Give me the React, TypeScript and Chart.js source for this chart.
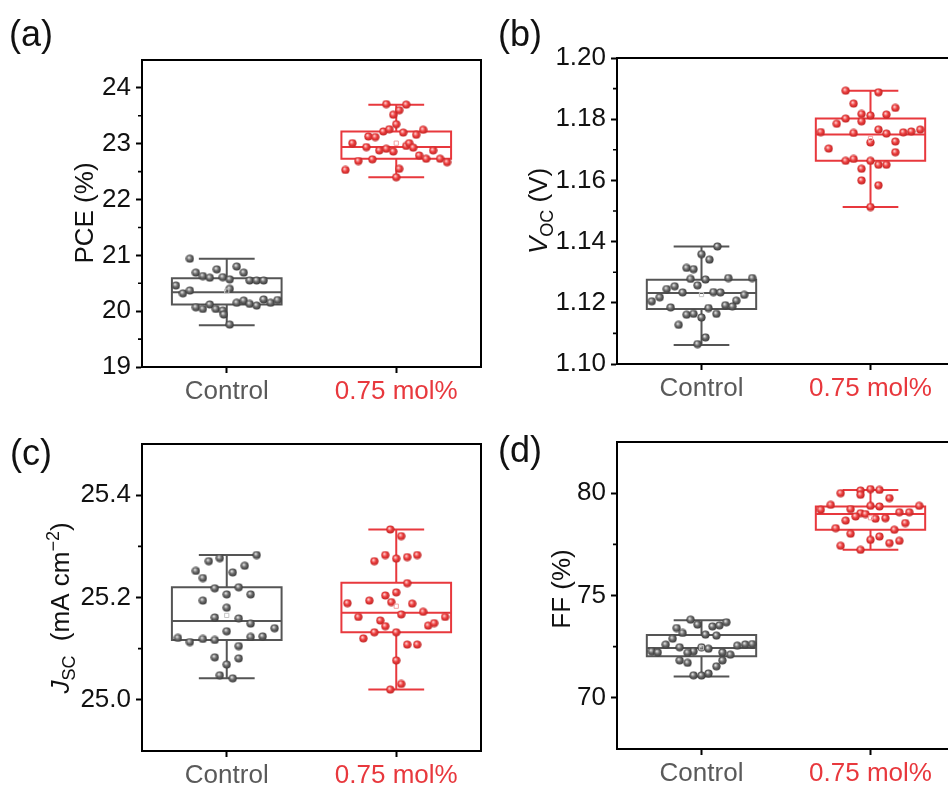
import React, { useEffect, useRef } from 'react';
import { Chart, registerables } from 'chart.js';

Chart.register(...registerables);

// ---------- shared categories ----------
const categories = ['Control', '0.75 mol%'];
const categoryPos = [85, 255]; // positions on a 0..340 x scale
const xExtent = [0, 340];

// ---------- (a) PCE ----------
const pceTicks = [19, 20, 21, 22, 23, 24];
const pceMinor = [19.5, 20.5, 21.5, 22.5, 23.5];
const pceCtrl = [20.94, 20.75, 20.80, 20.69, 20.69, 20.63, 20.60, 20.61, 20.57, 20.55, 20.55, 20.55, 20.46, 20.32, 20.37, 20.40, 20.07, 20.04, 20.12, 20.04, 20.01, 19.94, 20.15, 20.19, 20.13, 20.10, 20.21, 20.15, 20.20, 19.76];
const pceCtrlDx = [-37, -10, 10, 17, -31, -24, -17, -4, 3, 23, 30, 37, -51, -44, -37, 3, -31, -24, -17, -11, -4, -3, 10, 17, 23, 30, 37, 44, 51, 3];
const pceCtrlBox = [19.75, 20.12, 20.34, 20.59, 20.94];
const pceCtrlMean = 20.36;
const pceRed = [23.71, 23.70, 23.60, 23.52, 23.35, 23.22, 23.26, 23.20, 23.16, 23.25, 23.13, 23.12, 23.01, 22.94, 22.88, 22.91, 22.86, 22.96, 23.01, 22.93, 22.88, 22.69, 22.72, 22.79, 22.73, 22.73, 22.67, 22.53, 22.55, 22.40];
const pceRedDx = [-10, 10, 3, -3, 0, -13, -7, 7, 20, 27, -28, -21, -44, -30, -17, -10, -3, 10, 13, 17, 37, -38, -24, 23, 30, 44, 51, -51, 3, 0];
const pceRedBox = [22.40, 22.73, 22.94, 23.22, 23.70];
const pceRedMean = 23.01;

// ---------- (b) Voc ----------
const vocTicks = [1.10, 1.12, 1.14, 1.16, 1.18, 1.20];
const vocMinor = [1.11, 1.13, 1.15, 1.17, 1.19];
const vocCtrl = [1.1384, 1.1359, 1.1341, 1.1314, 1.1310, 1.1278, 1.1276, 1.1281, 1.1281, 1.1257, 1.1254, 1.1245, 1.1234, 1.1235, 1.1234, 1.1226, 1.1218, 1.1205, 1.1207, 1.1185, 1.1183, 1.1192, 1.1188, 1.1161, 1.1164, 1.1164, 1.1152, 1.1128, 1.1087, 1.1065];
const vocCtrlDx = [16, 0, 8, -15, -8, -11, 4, 27, 51, -4, -27, -35, -19, 12, 19, 43, -42, -50, 35, -31, 7, 24, 31, -15, -8, 15, 0, -23, 4, -4];
const vocCtrlBox = [1.1062, 1.1180, 1.1232, 1.1275, 1.1384];
const vocCtrlMean = 1.1227;
const vocRed = [1.1893, 1.1888, 1.1851, 1.1837, 1.1817, 1.1812, 1.1815, 1.1802, 1.1785, 1.1793, 1.1758, 1.1755, 1.1766, 1.1753, 1.1757, 1.1760, 1.1766, 1.1724, 1.1727, 1.1704, 1.1692, 1.1664, 1.1670, 1.1664, 1.1651, 1.1651, 1.1638, 1.1600, 1.1584, 1.1513];
const vocRedDx = [-25, 8, -17, 25, -9, 0, 16, -25, -34, -9, -50, -17, 8, 16, 33, 41, 50, 0, 25, -42, 25, -25, -17, 0, 8, 16, -9, -9, 8, 0];
const vocRedBox = [1.1513, 1.1664, 1.1750, 1.1802, 1.1893];
const vocRedMean = 1.1737;

// ---------- (c) Jsc ----------
const jscTicks = [25.0, 25.2, 25.4];
const jscMinor = [25.1, 25.3];
const jscCtrl = [25.283, 25.271, 25.277, 25.262, 25.252, 25.249, 25.238, 25.218, 25.220, 25.206, 25.206, 25.194, 25.180, 25.161, 25.159, 25.149, 25.134, 25.140, 25.121, 25.113, 25.119, 25.117, 25.123, 25.124, 25.105, 25.083, 25.081, 25.069, 25.048, 25.042];
const jscCtrlDx = [30, -18, -7, 18, -31, 6, -24, -12, 12, 0, 24, -24, 0, -12, 12, 24, 0, 48, -49, -37, -24, -12, 24, 36, 12, -12, 12, 0, -7, 6];
const jscCtrlBox = [25.042, 25.117, 25.154, 25.220, 25.283];
const jscCtrlMean = 25.165;
const jscRed = [25.333, 25.320, 25.271, 25.283, 25.276, 25.279, 25.283, 25.228, 25.210, 25.204, 25.191, 25.189, 25.194, 25.188, 25.172, 25.167, 25.162, 25.155, 25.162, 25.144, 25.145, 25.150, 25.132, 25.132, 25.120, 25.108, 25.108, 25.077, 25.031, 25.020];
const jscRedDx = [-6, 5, -22, -11, 0, 11, 21, 11, 0, -11, -5, -49, -27, 16, 27, 5, -38, -16, 49, -11, 32, 38, -22, 0, -33, 11, 21, 0, 5, -6];
const jscRedBox = [25.020, 25.132, 25.170, 25.229, 25.333];
const jscRedMean = 25.183;

// ---------- (d) FF ----------
const ffTicks = [70, 75, 80];
const ffMinor = [72.5, 77.5];
const ffCtrl = [73.82, 73.58, 73.49, 73.54, 73.69, 73.41, 73.17, 72.89, 73.09, 73.04, 72.60, 72.47, 72.27, 72.47, 72.40, 72.20, 72.55, 72.61, 72.63, 72.27, 72.22, 72.22, 72.11, 71.83, 71.83, 71.71, 71.54, 71.10, 71.09, 71.19];
const ffCtrlDx = [-11, -4, 11, 18, 25, -25, -19, -29, 4, 15, -36, -22, -8, 0, 7, -14, 36, 44, 51, -50, -44, 21, 29, 21, -22, -14, 15, -8, 0, 7];
const ffCtrlBox = [71.04, 72.03, 72.44, 73.07, 73.79];
const ffCtrlMean = 72.45;
const ffRed = [80.13, 80.20, 80.16, 80.00, 79.92, 79.76, 79.43, 79.38, 79.35, 79.38, 79.19, 79.22, 79.02, 79.07, 79.07, 78.86, 78.98, 78.75, 78.78, 78.66, 78.54, 78.29, 78.21, 78.02, 77.72, 77.88, 77.56, 77.67, 77.43, 77.23];
const ffRedDx = [-10, 0, 9, -30, -10, 19, -40, 0, 9, 49, -50, -20, -10, 29, 39, -15, -5, 5, 15, -25, 35, -35, 24, -20, 0, 9, 19, 29, -30, -10];
const ffRedBox = [77.23, 78.21, 78.98, 79.35, 80.15];
const ffRedMean = 78.80;

// ---------- styles ----------
const FONT = '"Liberation Sans", Arial, Helvetica, sans-serif';
const labelColors = ['#5a5a5a', '#e8383d'];
const boxColors = ['#555555', '#e8383d'];
const meanColors = ['#c4c4c4', '#f4a0a0'];
const BOX_HALF = 55;
const CAP_HALF = 28;
const CANVAS_W = 960;
const CANVAS_H = 800;
const Y_AXIS_W = 142;
const X_AXIS_H = 40;

type Part = { text: string; italic?: boolean; sub?: boolean; sup?: boolean };
type Group = { values: number[]; dx: number[]; box: number[]; mean: number };
type Panel = {
  tag: string; tagX: number; tagY: number;
  plot: number[];
  yMin: number; yMax: number; yTicks: number[]; yMinor: number[]; decimals: number;
  title: Part[]; titleX: number; titleY: number;
  groups: Group[];
};

const panels: Panel[] = [
  {
    tag: '(a)', tagX: 9, tagY: 46, plot: [142, 60, 481, 367],
    yMin: 19, yMax: 24.5, yTicks: pceTicks, yMinor: pceMinor, decimals: 0,
    title: [{ text: 'PCE (%)' }], titleX: 93, titleY: 213,
    groups: [
      { values: pceCtrl, dx: pceCtrlDx, box: pceCtrlBox, mean: pceCtrlMean },
      { values: pceRed, dx: pceRedDx, box: pceRedBox, mean: pceRedMean },
    ],
  },
  {
    tag: '(b)', tagX: 498, tagY: 46, plot: [617, 58, 957, 364],
    yMin: 1.10, yMax: 1.20, yTicks: vocTicks, yMinor: vocMinor, decimals: 2,
    title: [{ text: 'V', italic: true }, { text: 'OC', sub: true }, { text: ' (V)' }], titleX: 547, titleY: 211,
    groups: [
      { values: vocCtrl, dx: vocCtrlDx, box: vocCtrlBox, mean: vocCtrlMean },
      { values: vocRed, dx: vocRedDx, box: vocRedBox, mean: vocRedMean },
    ],
  },
  {
    tag: '(c)', tagX: 10, tagY: 465, plot: [142, 444, 481, 751],
    yMin: 24.9, yMax: 25.5, yTicks: jscTicks, yMinor: jscMinor, decimals: 1,
    title: [{ text: 'J', italic: true }, { text: 'SC', sub: true }, { text: '  (mA cm' }, { text: '\u22122', sup: true }, { text: ')' }],
    titleX: 69, titleY: 608,
    groups: [
      { values: jscCtrl, dx: jscCtrlDx, box: jscCtrlBox, mean: jscCtrlMean },
      { values: jscRed, dx: jscRedDx, box: jscRedBox, mean: jscRedMean },
    ],
  },
  {
    tag: '(d)', tagX: 498, tagY: 462, plot: [617, 442, 957, 749],
    yMin: 67.5, yMax: 82.5, yTicks: ffTicks, yMinor: ffMinor, decimals: 0,
    title: [{ text: 'FF (%)' }], titleX: 570, titleY: 589,
    groups: [
      { values: ffCtrl, dx: ffCtrlDx, box: ffCtrlBox, mean: ffCtrlMean },
      { values: ffRed, dx: ffRedDx, box: ffRedBox, mean: ffRedMean },
    ],
  },
];

function makeBall(light: string, mid: string, dark: string) {
  const c = document.createElement('canvas');
  c.width = 9;
  c.height = 9;
  const g = c.getContext('2d')!;
  const grad = g.createRadialGradient(3.4, 3.2, 0.3, 4.5, 4.5, 4.6);
  grad.addColorStop(0, light);
  grad.addColorStop(0.45, mid);
  grad.addColorStop(1, dark);
  g.fillStyle = grad;
  g.beginPath();
  g.arc(4.5, 4.5, 4.1, 0, Math.PI * 2);
  g.fill();
  return c;
}

function drawRich(ctx: CanvasRenderingContext2D, parts: Part[], bx: number, cy: number, size: number) {
  const fontFor = (p: Part) =>
    `${p.italic ? 'italic ' : ''}${p.sub || p.sup ? Math.round(size * 0.68) : size}px ${FONT}`;
  ctx.save();
  ctx.translate(bx, cy);
  ctx.rotate(-Math.PI / 2);
  let total = 0;
  parts.forEach((p) => {
    ctx.font = fontFor(p);
    total += ctx.measureText(p.text).width;
  });
  let x = -total / 2;
  ctx.textAlign = 'left';
  ctx.textBaseline = 'alphabetic';
  ctx.fillStyle = '#111';
  parts.forEach((p) => {
    ctx.font = fontFor(p);
    const dy = p.sub ? size * 0.22 : p.sup ? -size * 0.38 : 0;
    ctx.fillText(p.text, x, dy);
    x += ctx.measureText(p.text).width;
  });
  ctx.restore();
}

function buildConfig(panel: Panel): any {
  const balls = [
    makeBall('#e6e6e6', '#6a6a6a', '#2e2e2e'),
    makeBall('#ffd2d2', '#ee4040', '#b51c1c'),
  ];
  const [pl, pt, pr, pb] = panel.plot;

  const datasets: any[] = [];
  panel.groups.forEach((g, i) => {
    datasets.push({
      type: 'scatter',
      data: [{ x: categoryPos[i], y: g.mean }],
      pointStyle: 'rect',
      pointRadius: 3,
      borderWidth: 1,
      borderColor: meanColors[i],
      backgroundColor: 'rgba(0,0,0,0)',
    });
  });
  panel.groups.forEach((g, i) => {
    datasets.push({
      type: 'scatter',
      data: g.values.map((v, k) => ({ x: categoryPos[i] + g.dx[k], y: v })),
      pointStyle: balls[i],
      pointRadius: 4,
    });
  });

  const plugin = {
    id: 'boxplotPanel',
    beforeDatasetsDraw(chart: any) {
      const { ctx, scales } = chart;
      const x = scales.x;
      const y = scales.y;
      ctx.save();
      panel.groups.forEach((g, i) => {
        const c = categoryPos[i];
        const cx = x.getPixelForValue(c);
        const bl = x.getPixelForValue(c - BOX_HALF);
        const br = x.getPixelForValue(c + BOX_HALF);
        const wl = x.getPixelForValue(c - CAP_HALF);
        const wr = x.getPixelForValue(c + CAP_HALF);
        const [mn, q1, md, q3, mx] = g.box.map((v) => y.getPixelForValue(v));
        ctx.strokeStyle = boxColors[i];
        ctx.lineWidth = 2;
        ctx.beginPath();
        ctx.rect(bl, q3, br - bl, q1 - q3);
        ctx.moveTo(bl, md); ctx.lineTo(br, md);
        ctx.moveTo(cx, q3); ctx.lineTo(cx, mx);
        ctx.moveTo(cx, q1); ctx.lineTo(cx, mn);
        ctx.moveTo(wl, mx); ctx.lineTo(wr, mx);
        ctx.moveTo(wl, mn); ctx.lineTo(wr, mn);
        ctx.stroke();
      });
      ctx.restore();
    },
    afterDraw(chart: any) {
      const { ctx, chartArea, scales } = chart;
      const y = scales.y;
      ctx.save();
      ctx.strokeStyle = '#000';
      ctx.lineWidth = 2;
      ctx.strokeRect(chartArea.left, chartArea.top, chartArea.right - chartArea.left, chartArea.bottom - chartArea.top);
      ctx.lineWidth = 1.6;
      ctx.beginPath();
      panel.yMinor.forEach((v) => {
        const py = y.getPixelForValue(v);
        ctx.moveTo(chartArea.left - 4, py);
        ctx.lineTo(chartArea.left, py);
      });
      ctx.stroke();
      drawRich(ctx, panel.title, panel.titleX, panel.titleY, 26);
      ctx.font = `36px ${FONT}`;
      ctx.fillStyle = '#111';
      ctx.textAlign = 'left';
      ctx.textBaseline = 'alphabetic';
      ctx.fillText(panel.tag, panel.tagX, panel.tagY);
      ctx.restore();
    },
  };

  return {
    type: 'scatter',
    data: { datasets },
    plugins: [plugin],
    options: {
      animation: false,
      responsive: false,
      devicePixelRatio: 1,
      events: [],
      layout: {
        padding: {
          left: pl - Y_AXIS_W,
          top: pt,
          right: CANVAS_W - pr,
          bottom: CANVAS_H - pb - X_AXIS_H,
        },
      },
      plugins: { legend: { display: false }, tooltip: { enabled: false } },
      scales: {
        x: {
          type: 'linear',
          min: xExtent[0],
          max: xExtent[1],
          afterBuildTicks: (axis: any) => {
            axis.ticks = categoryPos.map((v) => ({ value: v }));
          },
          afterFit: (axis: any) => {
            axis.height = X_AXIS_H;
          },
          ticks: {
            autoSkip: false,
            maxRotation: 0,
            padding: 3,
            font: { family: FONT, size: 26 },
            color: (c: any) => labelColors[c.index] || '#000',
            callback: (_v: any, i: number) => categories[i],
          },
          grid: {
            display: true,
            drawOnChartArea: false,
            drawTicks: true,
            tickLength: 6,
            tickWidth: 2,
            tickColor: '#000',
            color: '#000',
          },
          border: { display: true, color: '#000', width: 2 },
        },
        y: {
          type: 'linear',
          min: panel.yMin,
          max: panel.yMax,
          afterBuildTicks: (axis: any) => {
            axis.ticks = panel.yTicks.map((v) => ({ value: v }));
          },
          afterFit: (axis: any) => {
            axis.width = Y_AXIS_W;
          },
          ticks: {
            padding: 5,
            font: { family: FONT, size: 26 },
            color: '#111',
            callback: (v: any) => Number(v).toFixed(panel.decimals),
          },
          grid: {
            display: true,
            drawOnChartArea: false,
            drawTicks: true,
            tickLength: 6,
            tickWidth: 2,
            tickColor: '#000',
            color: '#000',
          },
          border: { display: true, color: '#000', width: 2 },
        },
      },
    },
  };
}

function PanelChart({ panel }: { panel: Panel }) {
  const ref = useRef<HTMLCanvasElement | null>(null);
  useEffect(() => {
    const chart = new Chart(ref.current as HTMLCanvasElement, buildConfig(panel));
    return () => chart.destroy();
  }, [panel]);
  return (
    <canvas
      ref={ref}
      width={CANVAS_W}
      height={CANVAS_H}
      style={{ position: 'absolute', left: 0, top: 0, width: CANVAS_W, height: CANVAS_H }}
    />
  );
}

export default function App() {
  return (
    <div
      style={{
        position: 'fixed',
        left: 0,
        top: 0,
        width: 948,
        height: 787,
        overflow: 'hidden',
        background: '#fff',
      }}
    >
      {panels.map((p) => (
        <PanelChart key={p.tag} panel={p} />
      ))}
    </div>
  );
}
